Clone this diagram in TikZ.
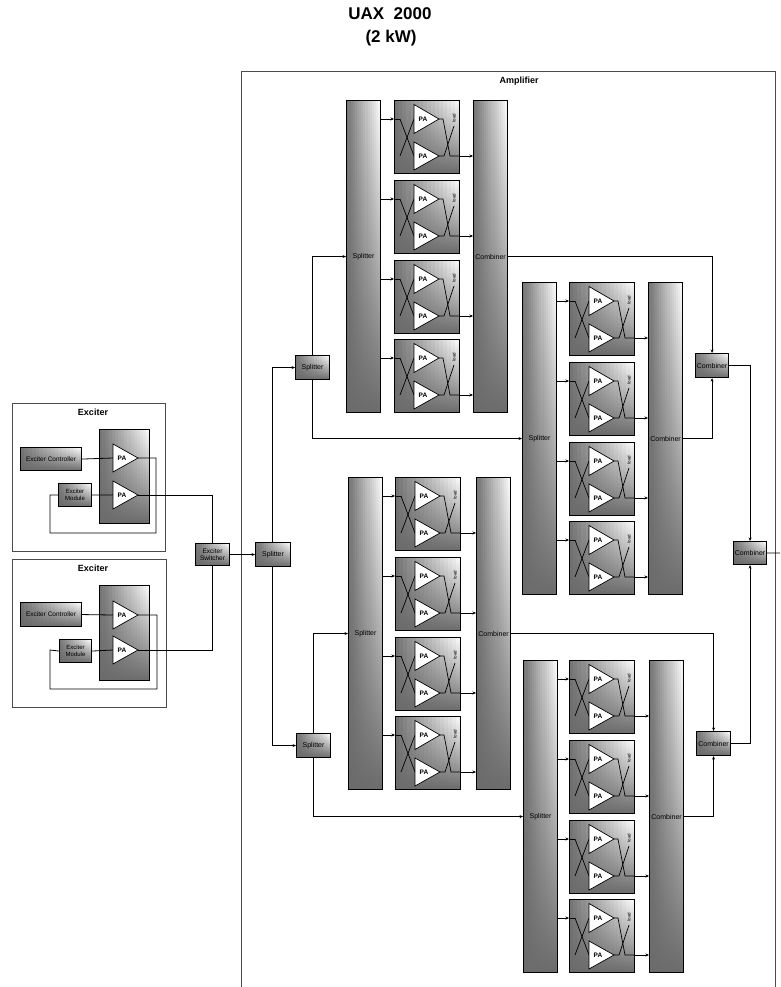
\documentclass[tikz,border=0pt]{standalone}
\usepackage{fontspec}
\setmainfont{Liberation Sans}
\usetikzlibrary{arrows.meta,calc}
\tikzset{
  x=1pt,y=-1pt,
  wire/.style={draw=black,line width=0.8pt},
  arrowwire/.style={wire,-{Stealth[length=3.5pt,width=3pt]}},
  thinwire/.style={draw=black,line width=0.7pt},
  frameboxx/.style={draw=black!70,line width=0.9pt},
  shadedbox/.style={draw=black,line width=1.1pt,path picture={
    \foreach \i in {0,...,15}{
      \pgfmathsetmacro\shT{54-3.4*\i}
      \pgfmathsetmacro\shM{0.5*\shT+0.5*56}
      \pgfmathsetmacro\shA{\i/16}
      \pgfmathsetmacro\shB{(\i+1.2)/16}
      \shade[top color=black!\shT,middle color=black!\shM,bottom color=black!58]
        ($(path picture bounding box.north west)!\shA!(path picture bounding box.north east)$) rectangle
        ($(path picture bounding box.south west)!\shB!(path picture bounding box.south east)$);
    }}},
  tallbox/.style={shadedbox},
  tri/.style={draw=black,line width=0.7pt,fill=white},
  lbl/.style={font=\fontsize{7}{7.5}\selectfont,align=center,inner sep=0pt,text=black},
  palbl/.style={font=\bfseries\fontsize{6.5}{7}\selectfont,inner sep=0pt,text=black},
  title/.style={font=\bfseries\fontsize{17}{19}\selectfont,inner sep=0pt},
  boxtitle/.style={font=\bfseries\fontsize{9}{10}\selectfont,inner sep=0pt},
}
% #1 name, #2 x, #3 y
\newcommand{\pamod}[3]{%
  \node[shadedbox,minimum width=65pt,minimum height=73pt,inner sep=0pt,anchor=north west] (#1) at (#2,#3) {};
  \draw[thinwire] ($(#2,#3)+(6,19)$) -- ($(#2,#3)+(20,56)$);
  \draw[thinwire] ($(#2,#3)+(6,56)$) -- ($(#2,#3)+(20,19)$);
  \draw[thinwire] ($(#2,#3)+(0,19)$) -- ($(#2,#3)+(6,19)$);
  \draw[thinwire] ($(#2,#3)+(45,19)$) -- ($(#2,#3)+(49,19)$) -- ($(#2,#3)+(56,56)$) -- ($(#2,#3)+(65,56)$);
  \draw[thinwire] ($(#2,#3)+(45,56)$) -- ($(#2,#3)+(50,56)$) -- ($(#2,#3)+(60,26)$);
  \draw[tri] ($(#2,#3)+(20,4.5)$) -- ($(#2,#3)+(45,19)$) -- ($(#2,#3)+(20,33.5)$) -- cycle;
  \draw[tri] ($(#2,#3)+(20,42)$) -- ($(#2,#3)+(45,56)$) -- ($(#2,#3)+(20,70)$) -- cycle;
  \node[palbl] at ($(#2,#3)+(29,19)$) {PA};
  \node[palbl] at ($(#2,#3)+(29,56)$) {PA};
  \node[lbl,rotate=90,font=\fontsize{4.5}{5}\selectfont] at ($(#2,#3)+(60,18)$) {load};
}
% #1 group, #2 split x, #3 mod x, #4 comb x, #5 top y
\newcommand{\ampgroup}[5]{%
  \node[tallbox,minimum width=34pt,minimum height=312pt,inner sep=0pt,anchor=north west] (#1s) at (#2,#5) {};
  \node[tallbox,minimum width=34pt,minimum height=312pt,inner sep=0pt,anchor=north west] (#1c) at (#4,#5) {};
  \node[lbl] at (#1s.center) {Splitter};
  \node[lbl] at (#1c.center) {Combiner};
  \pamod{#1a}{#3}{#5}
  \pamod{#1b}{#3}{\the\numexpr#5+80\relax}
  \pamod{#1d}{#3}{\the\numexpr#5+160\relax}
  \pamod{#1e}{#3}{\the\numexpr#5+239\relax}
  \foreach \o/\m in {19/a,99/b,179/d,258/e}{
    \coordinate (p) at ($(#2,#5)+(34,\o)$);
    \draw[arrowwire] (p) -- (p -| #1\m.west);
  }
  \foreach \o/\m in {56/a,136/b,216/d,295/e}{
    \coordinate (p) at ($(#3,#5)+(65,\o)$);
    \draw[arrowwire] (p) -- (p -| #1c.west);
  }
}
\begin{document}
\begin{tikzpicture}
\useasboundingbox (0,0) rectangle (780,987);
\fill[white] (0,0) rectangle (780,987);
\node[title] (t1) at (390,14) {UAX\ \ 2000};
\node[title] (t2) at (391,38) {(2 kW)};
% amplifier frame (open at the bottom edge)
\draw[frameboxx] (241,987) -- (241,71) -- (775,71) -- (775,987);
\node[boxtitle] (amp) at (519,81) {Amplifier};
% exciters
\draw[frameboxx] (12,403) rectangle (165,551);
\draw[frameboxx] (12,559) rectangle (166,707);
\node[boxtitle] (ex1) at (93,412) {Exciter};
\node[boxtitle] (ex2) at (93,568) {Exciter};
% exciter 1
\node[shadedbox,minimum width=61pt,minimum height=23pt,inner sep=0pt,anchor=north west] (c1) at (20,447) {};
\node[lbl,font=\fontsize{6.5}{7}\selectfont] at (c1.center) {Exciter Controller};
\node[shadedbox,minimum width=50pt,minimum height=94pt,inner sep=0pt,anchor=north west] (m1) at (99,429) {};
\node[shadedbox,minimum width=33pt,minimum height=23pt,inner sep=0pt,anchor=north west] (d1) at (58,483) {};
\node[lbl,font=\fontsize{6}{6.5}\selectfont] at (d1.center) {Exciter\\Module};
\coordinate (a1) at (138,458); \coordinate (b1) at (138,495);
\coordinate (f1a) at (156,458); \coordinate (f1b) at (156,533); \coordinate (f1c) at (50,533); \coordinate (f1d) at (50,495);
% exciter 2
\node[shadedbox,minimum width=61pt,minimum height=24pt,inner sep=0pt,anchor=north west] (c2) at (20,602) {};
\node[lbl,font=\fontsize{6.5}{7}\selectfont] at (c2.center) {Exciter Controller};
\node[shadedbox,minimum width=50pt,minimum height=95pt,inner sep=0pt,anchor=north west] (m2) at (99,585) {};
\node[shadedbox,minimum width=32pt,minimum height=23pt,inner sep=0pt,anchor=north west] (d2) at (59,639) {};
\node[lbl,font=\fontsize{6}{6.5}\selectfont] at (d2.center) {Exciter\\Module};
\coordinate (a2) at (138,615); \coordinate (b2) at (138,650);
\coordinate (f2a) at (157,615); \coordinate (f2b) at (157,689); \coordinate (f2c) at (50,689); \coordinate (f2d) at (50,650);
% switch + splitter boxes
\node[shadedbox,minimum width=34pt,minimum height=22pt,inner sep=0pt,anchor=north west] (sw) at (195,543) {};
\node[lbl,font=\fontsize{6.5}{7}\selectfont] at (sw.center) {Exciter\\Switcher};
\node[shadedbox,minimum width=35pt,minimum height=24pt,inner sep=0pt,anchor=north west] (sp0) at (255,542) {};
\node[lbl] at (sp0.center) {Splitter};
\node[shadedbox,minimum width=34pt,minimum height=24pt,inner sep=0pt,anchor=north west] (sp1) at (295,355) {};
\node[lbl] at (sp1.center) {Splitter};
\node[shadedbox,minimum width=34pt,minimum height=24pt,inner sep=0pt,anchor=north west] (sp2) at (296,733) {};
\node[lbl] at (sp2.center) {Splitter};
\node[shadedbox,minimum width=33pt,minimum height=24pt,inner sep=0pt,anchor=north west] (cb1) at (695,353) {};
\node[lbl] at (cb1.center) {Combiner};
\node[shadedbox,minimum width=34pt,minimum height=24pt,inner sep=0pt,anchor=north west] (cb2) at (696,731) {};
\node[lbl] at (cb2.center) {Combiner};
\node[shadedbox,minimum width=33pt,minimum height=23pt,inner sep=0pt,anchor=north west] (cb0) at (733,541) {};
\node[lbl] at (cb0.center) {Combiner};
% amplifier groups
\ampgroup{A}{346}{394}{473}{100}
\ampgroup{B}{522}{569}{648}{282}
\ampgroup{C}{348}{395}{476}{477}
\ampgroup{D}{523}{569}{649}{660}
% exciter triangles and wiring
\draw[wire] (c1.east) -- (113,458);
\draw[wire] (d1.east) -- (113,495);
\draw[wire] (c2.east) -- (113,615);
\draw[wire] (d2.east) -- (113,650);
\foreach \y in {458,495,615,650}{
  \draw[tri] (113,\y-14) -- (138,\y) -- (113,\y+14) -- cycle;
  \node[palbl] at (122,\y) {PA};
}
\draw[wire] (a1) -- (f1a) -- (f1b) -- (f1c) -- (f1d) -- (d1.west);
\draw[wire] (a2) -- (f2a) -- (f2b) -- (f2c) -- (f2d) -- (d2.west);
\draw[wire] (b1) -- (b1 -| sw.north) -- (sw.north);
\draw[wire] (b2) -- (b2 -| sw.south) -- (sw.south);
\draw[arrowwire] (sw.east) -- (sp0.west);
% amplifier wiring
\coordinate (v0) at (272,542);
\coordinate (v1) at (272,566);
\draw[arrowwire] (v0) -- (v0 |- sp1.west) -- (sp1.west);
\draw[arrowwire] (v1) -- (v1 |- sp2.west) -- (sp2.west);
\draw[arrowwire] (sp1.north) -- (sp1.north |- As.west) -- (As.west);
\draw[arrowwire] (sp1.south) -- (sp1.south |- Bs.west) -- (Bs.west);
\draw[arrowwire] (sp2.north) -- (sp2.north |- Cs.west) -- (Cs.west);
\draw[arrowwire] (sp2.south) -- (sp2.south |- Ds.west) -- (Ds.west);
\draw[arrowwire] (Ac.east) -- (Ac.east -| cb1.north) -- (cb1.north);
\draw[arrowwire] (Bc.east) -- (Bc.east -| cb1.south) -- (cb1.south);
\draw[arrowwire] (Cc.east) -- (Cc.east -| cb2.north) -- (cb2.north);
\draw[arrowwire] (Dc.east) -- (Dc.east -| cb2.south) -- (cb2.south);
\draw[arrowwire] (cb1.east) -- (cb1.east -| cb0.north) -- (cb0.north);
\draw[arrowwire] (cb2.east) -- (cb2.east -| cb0.south) -- (cb0.south);
\coordinate (out) at (780,553);
\draw[wire] (cb0.east) -- (out);
\end{tikzpicture}
\end{document}
